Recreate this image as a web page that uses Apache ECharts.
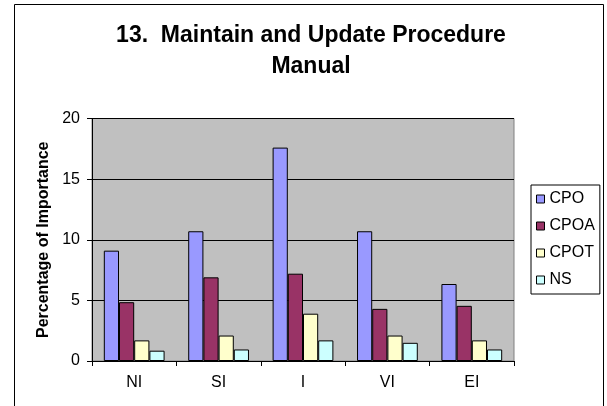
<!DOCTYPE html>
<html>
<head>
<meta charset="utf-8">
<script src="https://cdn.jsdelivr.net/npm/echarts@6/dist/echarts.min.js"></script>
<style>
html,body{margin:0;padding:0;background:#fff;}
#chart{width:607px;height:406px;}
</style>
</head>
<body>
<div id="chart"></div>
<script>
var categories = ['NI', 'SI', 'I', 'VI', 'EI'];
var seriesNames = ['CPO', 'CPOA', 'CPOT', 'NS'];
var cpo  = [9.1, 10.7, 17.6, 10.7, 6.35];
var cpoa = [4.85, 6.9, 7.2, 4.3, 4.55];
var cpot = [1.7, 2.1, 3.9, 2.1, 1.7];
var ns   = [0.85, 0.95, 1.7, 1.5, 0.95];
var yTicks = [0, 5, 10, 15, 20];
var titleText = '13.  Maintain and Update Procedure\nManual';
var yAxisName = 'Percentage of Importance';

var colors = ['#9999FF', '#993366', '#FFFFCC', '#CCFFFF'];
var font = "'Liberation Sans', Arial, sans-serif";
var values = [cpo, cpoa, cpot, ns];

var chart = echarts.init(document.getElementById('chart'), null, {renderer: 'canvas'});
var option = {
  animation: false,
  backgroundColor: '#ffffff',
  graphic: [{
    type: 'rect',
    shape: {x: 14.5, y: 4.5, width: 589, height: 420},
    style: {fill: 'none', stroke: '#000', lineWidth: 1},
    silent: true,
    z: -1
  }, {
    type: 'text',
    x: 311,
    y: 20,
    silent: true,
    style: {
      text: titleText,
      fontFamily: font,
      fontWeight: 'bold',
      fontSize: 23,
      lineHeight: 31,
      fill: '#000',
      align: 'center',
      verticalAlign: 'top'
    }
  }],
  legend: {
    orient: 'vertical',
    left: 531,
    top: 185,
    padding: [6, 5, 6, 5],
    itemWidth: 8,
    itemHeight: 8,
    itemGap: 11,
    icon: 'rect',
    backgroundColor: '#fff',
    borderColor: '#000',
    borderWidth: 1,
    itemStyle: {borderColor: '#000', borderWidth: 1},
    textStyle: {fontFamily: font, fontSize: 16, color: '#000', padding: [0, 0, 0, 0]},
    data: seriesNames
  },
  grid: {
    left: 92, right: 93, top: 118.5, bottom: 45,
    show: true,
    backgroundColor: '#C0C0C0',
    borderColor: '#808080',
    borderWidth: 1
  },
  xAxis: {
    type: 'category',
    data: categories,
    axisLine: {show: true, lineStyle: {color: '#000', width: 1}},
    axisTick: {show: true, length: 5, alignWithLabel: false, lineStyle: {color: '#000'}},
    axisLabel: {fontFamily: font, fontSize: 16, color: '#000', margin: 14},
    splitLine: {show: false}
  },
  yAxis: {
    type: 'value',
    min: yTicks[0],
    max: yTicks[yTicks.length - 1],
    interval: 5,
    name: yAxisName,
    nameLocation: 'middle',
    nameRotate: 90,
    nameGap: 39,
    nameTextStyle: {fontFamily: font, fontWeight: 'bold', fontSize: 16, color: '#000'},
    axisLine: {show: true, lineStyle: {color: '#000', width: 1}},
    axisTick: {show: true, length: 5, lineStyle: {color: '#000'}},
    axisLabel: {fontFamily: font, fontSize: 16, color: '#000', margin: 12},
    splitLine: {show: true, lineStyle: {color: '#000', width: 1}}
  },
  series: seriesNames.map(function (name, i) {
    return {
      name: name,
      type: 'bar',
      data: values[i],
      barGap: 0,
      barCategoryGap: '28%',
      itemStyle: {color: colors[i], borderColor: '#000', borderWidth: 1}
    };
  })
};
chart.setOption(option);
</script>
</body>
</html>
